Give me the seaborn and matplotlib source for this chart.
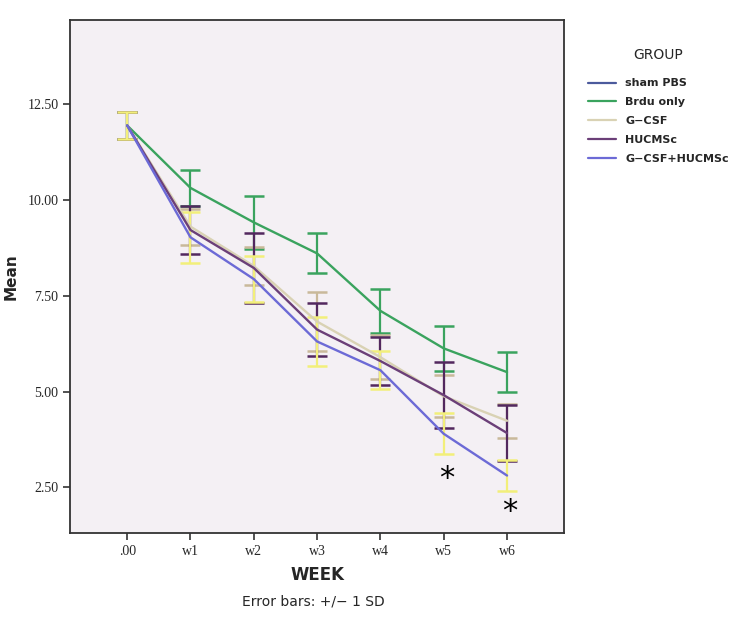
import pandas as pd
import numpy as np
import seaborn as sns
import matplotlib.pyplot as plt
from matplotlib.lines import Line2D

weeks = [".00", "w1", "w2", "w3", "w4", "w5", "w6"]
groups = ["sham PBS", "Brdu only", "G\u2212CSF", "HUCMSc", "G\u2212CSF+HUCMSc"]

# means (sham PBS line is hidden under the others)
sham_mean = [11.95, np.nan, np.nan, np.nan, np.nan, np.nan, np.nan]
brdu_mean = [11.95, 10.32, 9.42, 8.61, 7.11, 6.13, 5.51]
gcsf_mean = [11.95, 9.31, 8.28, 6.83, 5.90, 4.88, 4.24]
hucm_mean = [11.95, 9.22, 8.23, 6.62, 5.80, 4.91, 3.92]
both_mean = [11.95, 9.03, 7.94, 6.31, 5.56, 3.90, 2.81]

# standard deviations
brdu_sd = [0.34, 0.47, 0.69, 0.52, 0.58, 0.58, 0.53]
gcsf_sd = [0.34, 0.47, 0.49, 0.78, 0.57, 0.55, 0.44]
hucm_sd = [0.34, 0.63, 0.91, 0.70, 0.63, 0.87, 0.73]
both_sd = [0.34, 0.67, 0.61, 0.65, 0.49, 0.53, 0.41]

line_cols = ["#4b5a9c", "#3aa35e", "#d9d2b4", "#6b3f78", "#6c6ad6"]
bar_cols = ["#4b5a9c", "#3aa35e", "#c9b99a", "#52285e", "#f2ef7a"]

means = [sham_mean, brdu_mean, gcsf_mean, hucm_mean, both_mean]
sds = [None, brdu_sd, gcsf_sd, hucm_sd, both_sd]

rows = []
for g, m in zip(groups, means):
    for i, v in enumerate(m):
        rows.append({"pos": i, "mean": v, "GROUP": g})
df = pd.DataFrame(rows)

sns.set_style("white")
fig = plt.figure(figsize=(7.55, 6.3), dpi=100)
ax = fig.add_axes([0.093, 0.154, 0.654, 0.814])
ax.set_facecolor("#f4f0f4")

# error bars first, lines on top
for k in [1, 2, 3, 4]:
    ax.errorbar(range(len(weeks)), means[k], yerr=sds[k], fmt="none",
                ecolor=bar_cols[k], elinewidth=1.6, capsize=7, capthick=1.8,
                zorder=2)

sns.lineplot(data=df, x="pos", y="mean", hue="GROUP", hue_order=groups,
             palette=dict(zip(groups, line_cols)), linewidth=1.7,
             legend=False, ax=ax, zorder=3)

# significance marks
ax.text(5.05, 2.72, "*", fontsize=22, ha="center", va="center", color="black")
ax.text(6.05, 1.88, "*", fontsize=22, ha="center", va="center", color="black")

ax.set_xlim(-0.9, 6.9)
ax.set_ylim(1.31, 14.7)
ax.set_xticks(range(len(weeks)))
ax.set_xticklabels(weeks, family="Liberation Serif", fontsize=10)
ax.set_yticks([2.5, 5.0, 7.5, 10.0, 12.5])
ax.set_yticklabels(["2.50", "5.00", "7.50", "10.00", "12.50"],
                   family="Liberation Serif", fontsize=10)
ax.tick_params(axis="both", length=5, width=1.2, color="#333333", direction="out",
               bottom=True, left=True)
for s in ax.spines.values():
    s.set_color("#333333")
    s.set_linewidth(1.3)

ax.set_xlabel("WEEK", fontsize=12, fontweight="bold", labelpad=6)
ax.set_ylabel("Mean", fontsize=11, fontweight="bold")
ax.yaxis.set_label_coords(-0.105, 0.5)
fig.text(0.415, 0.045, "Error bars: +/\u2212 1 SD", fontsize=10, ha="center",
         va="center")

handles = [Line2D([0], [0], color=c, lw=1.6) for c in line_cols]
leg = fig.legend(handles, groups, title="GROUP", loc="upper left",
                 bbox_to_anchor=(0.765, 0.94), frameon=False,
                 handlelength=2.6, labelspacing=0.8, title_fontsize=10,
                 prop={"weight": "bold", "size": 8})
leg._legend_box.sep = 12

fig.savefig("out.png", dpi=100, facecolor="white")
